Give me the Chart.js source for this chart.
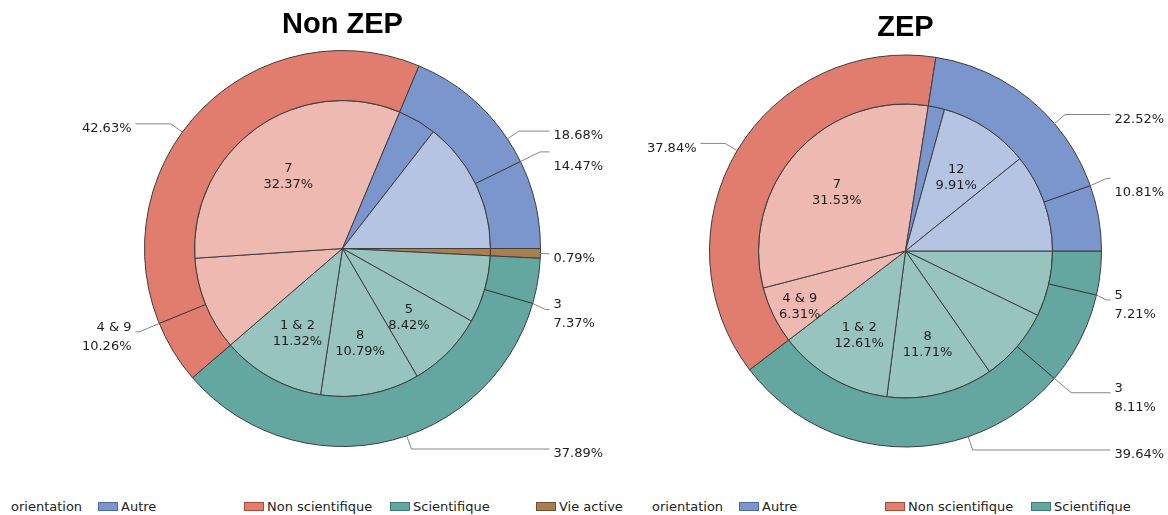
<!DOCTYPE html>
<html><head><meta charset="utf-8">
<script src="https://cdn.jsdelivr.net/npm/chart.js@4/dist/chart.umd.min.js"></script>
<style>
html,body{margin:0;padding:0;background:#fff;width:1168px;height:515px;overflow:hidden;position:relative;}
#c1{position:absolute;left:0;top:0;}
#c2{position:absolute;left:630px;top:0;}
.legend{position:absolute;top:499px;height:16px;font:13px "DejaVu Sans",sans-serif;color:#222;white-space:nowrap;}
.legend span{position:absolute;top:0;line-height:16px;}
.legend i{position:absolute;top:3px;width:20px;height:9px;box-sizing:border-box;border:1px solid;}
</style></head><body>
<canvas id="c1" width="630" height="490"></canvas>
<canvas id="c2" width="538" height="490"></canvas>
<div id="lg1" class="legend" style="left:11px"></div>
<div id="lg2" class="legend" style="left:652px"></div>
<script>
// ---------- data ----------
const orientations = ["Autre", "Non scientifique", "Scientifique", "Vie active"];
const legendTitle = "orientation";
const nonZepTitle = "Non ZEP";
const zepTitle = "ZEP";
const nonZepOrientationPct = [18.68, 42.63, 37.89, 0.79];
const zepOrientationPct = [22.52, 37.84, 39.64, 0];

// inner pie: sub-groups, listed counter-clockwise from 3 o'clock
// name null = unlabelled part drawn in the parent colour, "" = unnamed but labelled
const nonZepSubNames  = ["", null, "7", "4 & 9", "1 & 2", "8", "5", "3", null];
const nonZepSubParent = ["Autre", "Autre", "Non scientifique", "Non scientifique", "Scientifique", "Scientifique", "Scientifique", "Scientifique", "Vie active"];
const nonZepSubPct    = [14.47, 4.21, 32.37, 10.26, 11.32, 10.79, 8.42, 7.37, 0.79];
const nonZepSubOutside = [true, false, false, true, false, false, false, true, false];

const zepSubNames  = ["", "12", null, "7", "4 & 9", "1 & 2", "8", "3", "5"];
const zepSubParent = ["Autre", "Autre", "Autre", "Non scientifique", "Non scientifique", "Scientifique", "Scientifique", "Scientifique", "Scientifique"];
const zepSubPct    = [10.81, 9.91, 1.80, 31.53, 6.31, 12.61, 11.71, 8.11, 7.21];
const zepSubOutside = [true, false, false, false, false, false, false, true, true];

// ---------- styles ----------
const baseColors  = {"Autre": "#7b96cc", "Non scientifique": "#e07d6e", "Scientifique": "#64a6a0", "Vie active": "#a97f4f"};
const lightColors = {"Autre": "#b4c4e2", "Non scientifique": "#eeb9b1", "Scientifique": "#98c4c0", "Vie active": "#a97f4f"};
const boxBorders  = {"Autre": "#4f68a0", "Non scientifique": "#a8493c", "Scientifique": "#3d7a74", "Vie active": "#6f5130"};

function pctText(v) { return v.toFixed(2) + "%"; }

const leaderLabels = {
  id: 'leaderLabels',
  afterDatasetsDraw(chart, args, opts) {
    const ctx = chart.ctx;
    const Router = chart.getDatasetMeta(0).data[0].outerRadius;
    chart.data.datasets.forEach((ds, di) => {
      const meta = chart.getDatasetMeta(di);
      meta.data.forEach((arc, j) => {
        const mode = ds.labelMode[j];
        if (!mode) return;
        const lines = ds.labelLines[j];
        const p = arc.getProps(['x', 'y', 'startAngle', 'endAngle', 'innerRadius', 'outerRadius'], true);
        const mid = (p.startAngle + p.endAngle) / 2;
        const c = Math.cos(mid), s = Math.sin(mid);
        ctx.save();
        ctx.font = opts.font;
        ctx.fillStyle = opts.color;
        ctx.textBaseline = 'middle';
        if (mode === 'in') {
          const span = p.endAngle - p.startAngle;
          const r = p.outerRadius * (span < 0.45 ? 0.8 : 0.63);
          const px = p.x + c * r, py = p.y + s * r + opts.innerShift;
          ctx.textAlign = 'center';
          const n = lines.length;
          lines.forEach((t, k) => ctx.fillText(t, px, py + (k - (n - 1) / 2) * opts.innerLineHeight));
        } else {
          const fromInner = p.outerRadius < Router - 1;
          const sx = p.x + c * p.outerRadius, sy = p.y + s * p.outerRadius;
          const rx = p.x + c * Router, ry = p.y + s * Router;
          const er = Router + (fromInner ? opts.innerElbow : opts.elbow);
          const right = c >= 0;
          const maxDx = Router + opts.lineEnd - 4;
          let ex = p.x + c * er;
          ex = right ? Math.min(ex, p.x + maxDx) : Math.max(ex, p.x - maxDx);
          const ey = p.y + s * er;
          const lx = right ? p.x + Router + opts.lineEnd : p.x - Router - opts.lineEnd;
          ctx.lineWidth = 1;
          if (fromInner) {
            ctx.strokeStyle = opts.innerLineColor;
            ctx.beginPath(); ctx.moveTo(sx, sy); ctx.lineTo(rx, ry); ctx.stroke();
          }
          ctx.strokeStyle = opts.lineColor;
          ctx.beginPath(); ctx.moveTo(rx, ry); ctx.lineTo(ex, ey); ctx.lineTo(lx, ey); ctx.stroke();
          const tx = right ? p.x + Router + opts.labelGap : p.x - Router - opts.labelGap;
          ctx.textAlign = right ? 'left' : 'right';
          const n = lines.length;
          const cy = ey + opts.labelShift;
          lines.forEach((t, k) => ctx.fillText(t, tx, cy + (k - (n - 1) / 2) * opts.lineHeight));
        }
        ctx.restore();
      });
    });
  }
};

function makeChart(canvasId, title, outerPct, subNames, subParent, subPct, subOutside, geo) {
  const outerIdx = outerPct.map((v, i) => i).filter(i => outerPct[i] > 0).reverse();
  const innerIdx = subPct.map((v, i) => i).reverse();
  const outerDs = {
    data: outerIdx.map(i => outerPct[i]),
    backgroundColor: outerIdx.map(i => baseColors[orientations[i]]),
    weight: geo.ring,
    labelMode: outerIdx.map(() => 'out'),
    labelLines: outerIdx.map(i => [pctText(outerPct[i])])
  };
  const innerDs = {
    data: innerIdx.map(i => subPct[i]),
    backgroundColor: innerIdx.map(i => subNames[i] === null ? baseColors[subParent[i]] : lightColors[subParent[i]]),
    weight: geo.inner,
    labelMode: innerIdx.map(i => subNames[i] === null ? null : (subOutside[i] ? 'out' : 'in')),
    labelLines: innerIdx.map(i => [subNames[i] || "", pctText(subPct[i])])
  };
  return new Chart(document.getElementById(canvasId), {
    type: 'pie',
    data: { labels: innerIdx.map(i => subNames[i] || ""), datasets: [outerDs, innerDs] },
    options: {
      responsive: false,
      animation: false,
      events: [],
      rotation: 90,
      radius: geo.ring + geo.inner,
      borderColor: '#3d3d3d',
      borderWidth: 1,
      hoverBorderWidth: 1,
      layout: { padding: geo.padding },
      elements: { arc: { borderColor: '#3d3d3d', borderWidth: 1 } },
      plugins: {
        legend: { display: false },
        tooltip: { enabled: false },
        title: {
          display: true, text: title, color: '#000',
          font: { family: 'Liberation Sans', size: 29, weight: 'bold', lineHeight: 1.2 },
          padding: geo.titlePadding
        },
        leaderLabels: {
          font: '13px "DejaVu Sans"', color: '#1e1e1e', lineHeight: 19, innerLineHeight: 16, innerShift: 4,
          lineColor: '#858585', innerLineColor: '#333', elbow: 14, innerElbow: 22, lineEnd: 9, labelGap: 13, labelShift: 5
        }
      }
    },
    plugins: [leaderLabels]
  });
}

function buildLegend(el, pcts) {
  let html = '<span style="left:0">' + legendTitle + '</span>';
  let col = 0;
  orientations.forEach((name, i) => {
    if (!(pcts[i] > 0)) return;
    const x = 87 + col * 146;
    html += '<i style="left:' + x + 'px;background:' + baseColors[name] + ';border-color:' + boxBorders[name] + '"></i>' +
            '<span style="left:' + (x + 23) + 'px">' + name + '</span>';
    col++;
  });
  el.innerHTML = html;
}

makeChart('c1', nonZepTitle, nonZepOrientationPct, nonZepSubNames, nonZepSubParent, nonZepSubPct, nonZepSubOutside,
  { ring: 50, inner: 148, padding: { left: 55, right: 0, top: 0, bottom: 40.8 }, titlePadding: { top: 8, bottom: 5 } });
makeChart('c2', zepTitle, zepOrientationPct, zepSubNames, zepSubParent, zepSubPct, zepSubOutside,
  { ring: 49, inner: 147, padding: { left: 13, right: 0, top: 0, bottom: 35.8 }, titlePadding: { top: 11, bottom: 2 } });
buildLegend(document.getElementById('lg1'), nonZepOrientationPct);
buildLegend(document.getElementById('lg2'), zepOrientationPct);
</script>
</body></html>
